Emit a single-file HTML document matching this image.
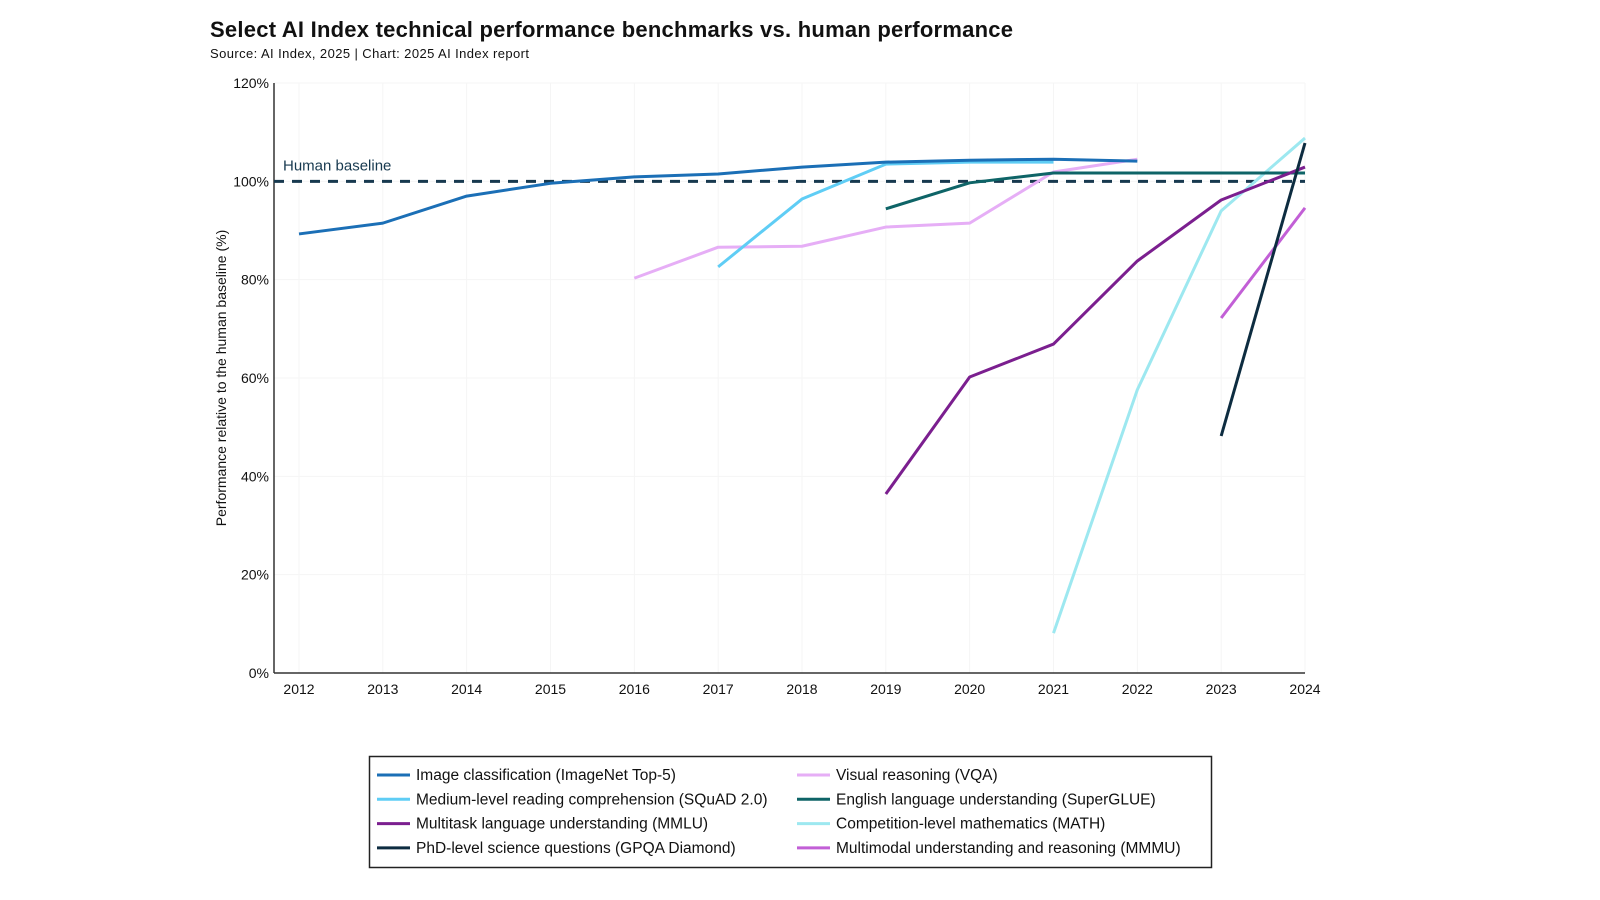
<!DOCTYPE html>
<html><head><meta charset="utf-8"><style>
body{margin:0;background:#fff;font-family:"Liberation Sans",sans-serif}
svg{display:block}
text{font-family:"Liberation Sans",sans-serif}
</style></head><body>
<svg id="c" width="1600" height="900">
<text x="210" y="37" font-size="22" font-weight="bold" fill="#111" textLength="803" lengthAdjust="spacing">Select AI Index technical performance benchmarks vs. human performance</text>
<text x="210" y="58" font-size="13" fill="#111" textLength="319" lengthAdjust="spacing">Source: AI Index, 2025 | Chart: 2025 AI Index report</text>
<g id="grid"></g>
<g id="axes"></g>
<g id="series"></g>
<text transform="translate(226,378) rotate(-90)" text-anchor="middle" font-size="14" fill="#111">Performance relative to the human baseline (%)</text>
<g id="legend"></g>
</svg>
<script>
const years=[2012,2013,2014,2015,2016,2017,2018,2019,2020,2021,2022,2023,2024];
const yTicks=[0,20,40,60,80,100,120];
const seriesNames=["Image classification (ImageNet Top-5)","Medium-level reading comprehension (SQuAD 2.0)","Multitask language understanding (MMLU)","PhD-level science questions (GPQA Diamond)","Visual reasoning (VQA)","English language understanding (SuperGLUE)","Competition-level mathematics (MATH)","Multimodal understanding and reasoning (MMMU)"];
const seriesColors=["#1b6fb6","#5fcdf5","#7b1f8f","#0d2c40","#e6aef6","#0e6467","#9de8f0","#c25fd6"];
const imagenetYears=[2012,2013,2014,2015,2016,2017,2018,2019,2020,2021,2022];
const imagenetVals=[89.3,91.5,97,99.6,100.9,101.5,102.9,103.9,104.3,104.5,104.1];
const squadYears=[2017,2018,2019,2020,2021];
const squadVals=[82.6,96.4,103.5,103.9,103.9];
const mmluYears=[2019,2020,2021,2022,2023,2024];
const mmluVals=[36.4,60.2,66.9,83.8,96.2,102.9];
const gpqaYears=[2023,2024];
const gpqaVals=[48.2,107.8];
const vqaYears=[2016,2017,2018,2019,2020,2021,2022];
const vqaVals=[80.3,86.6,86.8,90.7,91.5,101.9,104.5];
const glueYears=[2019,2020,2021,2022,2023,2024];
const glueVals=[94.4,99.7,101.7,101.7,101.7,101.7];
const mathYears=[2021,2022,2023,2024];
const mathVals=[8.1,57.6,94,108.8];
const mmmuYears=[2023,2024];
const mmmuVals=[72.2,94.6];
const baseline=100;

const NS="http://www.w3.org/2000/svg";
const X0=299,X1=1305,Y0=673,Y1=83;
const xs=y=>X0+(y-2012)*(X1-X0)/12;
const ys=v=>Y0-v*(Y0-Y1)/120;
function mk(tag,attrs,parent){const e=document.createElementNS(NS,tag);for(const k in attrs)e.setAttribute(k,attrs[k]);parent.appendChild(e);return e;}
const grid=document.getElementById('grid'),axes=document.getElementById('axes'),ser=document.getElementById('series'),leg=document.getElementById('legend');
years.forEach(y=>{
  const l=mk('line',{x1:xs(y),x2:xs(y),y1:Y1,y2:Y0,stroke:'#f5f5f5','stroke-width':1},grid);
  
  
  const t=mk('text',{x:xs(y),y:694,'text-anchor':'middle','font-size':14,fill:'#111'},axes);
  t.textContent=y;
  
  
});
yTicks.forEach(v=>{
  const l=mk('line',{x1:274,x2:X1,y1:ys(v),y2:ys(v),stroke:'#f5f5f5','stroke-width':1},grid);
  
  
  const t=mk('text',{x:269,y:ys(v)+5,'text-anchor':'end','font-size':14,fill:'#111'},axes);
  t.textContent=v+'%';
  
  
});
const ya=mk('line',{x1:274,x2:274,y1:Y1,y2:Y0,stroke:'#333','stroke-width':1.5},axes);


const xa=mk('line',{x1:274,x2:X1,y1:Y0,y2:Y0,stroke:'#333','stroke-width':1.5},axes);


const bl=mk('line',{x1:274,x2:X1,y1:ys(baseline),y2:ys(baseline),stroke:'#17394f','stroke-width':3,'stroke-dasharray':'10 8'},ser);


const blt=mk('text',{x:283,y:ys(baseline)-11,'font-size':15,fill:'#17394f'},ser);
blt.textContent='Human baseline';


const data=[[imagenetYears,imagenetVals],[squadYears,squadVals],[mmluYears,mmluVals],[gpqaYears,gpqaVals],[vqaYears,vqaVals],[glueYears,glueVals],[mathYears,mathVals],[mmmuYears,mmmuVals]];
const order=[4,1,6,5,0,2,7,3];
order.forEach(i=>{
  const [yy,vv]=data[i];
  const p=mk('polyline',{points:yy.map((y,j)=>xs(y)+','+ys(vv[j])).join(' '),fill:'none',stroke:seriesColors[i],'stroke-width':3,'stroke-linejoin':'round'},ser);
  
  
});
const box=mk('rect',{x:369.5,y:756.5,width:842,height:111,fill:'#fff',stroke:'#222','stroke-width':1.5},leg);


seriesNames.forEach((n,i)=>{
  const col=i<4?0:1,row=i%4;
  const lx=col?797:377,ly=775+row*24.3;
  const g=mk('g',{},leg);
  
  
  mk('line',{x1:lx,x2:lx+33,y1:ly,y2:ly,stroke:seriesColors[i],'stroke-width':3},g);
  const t=mk('text',{x:lx+39,y:ly+5,'font-size':15.5,fill:'#111'},g);
  t.textContent=n;
});
</script>
</body></html>
